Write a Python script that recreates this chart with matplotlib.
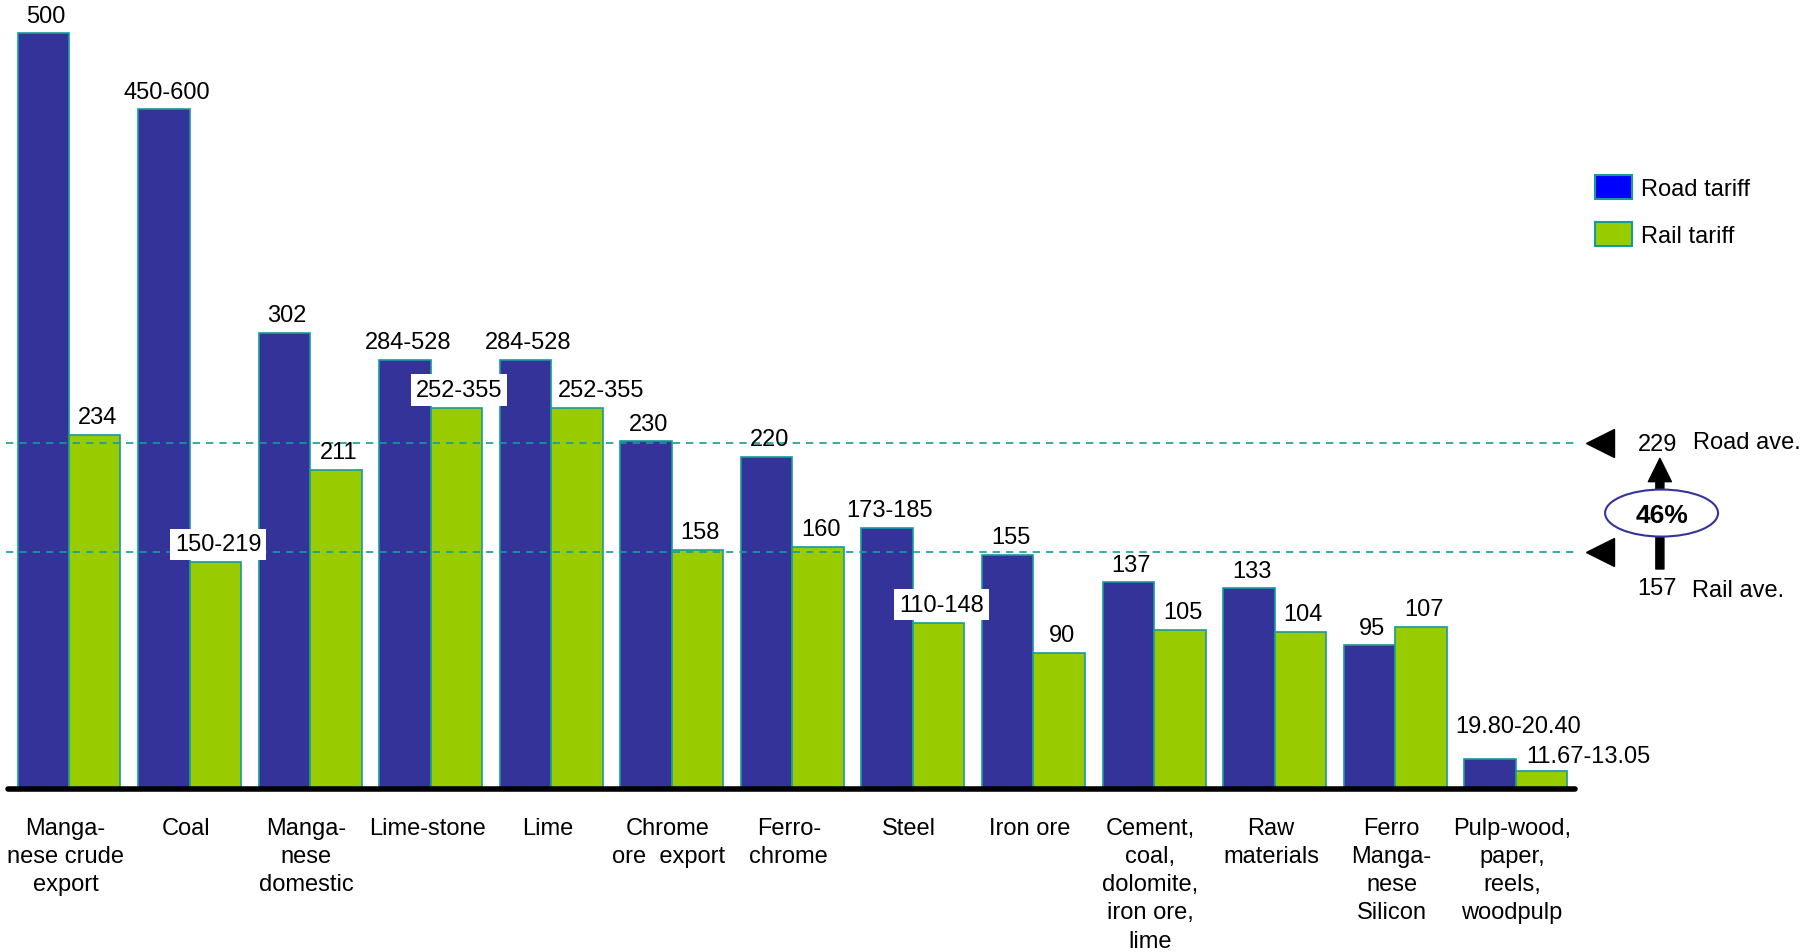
import numpy as np
import matplotlib.pyplot as plt
from matplotlib.patches import Ellipse, Patch

plt.rcParams['font.family'] = ['Liberation Sans', 'DejaVu Sans']

categories = ["Manga-\nnese crude\nexport", "Coal", "Manga-\nnese\ndomestic", "Lime-stone", "Lime",
              "Chrome\nore  export", "Ferro-\nchrome", "Steel", "Iron ore",
              "Cement,\ncoal,\ndolomite,\niron ore,\nlime", "Raw\nmaterials",
              "Ferro\nManga-\nnese\nSilicon", "Pulp-wood,\npaper,\nreels,\nwoodpulp"]
road_tariff = [500, 450, 302, 284, 284, 230, 220, 173, 155, 137, 133, 95, 19.80]
rail_tariff = [234, 150, 211, 252, 252, 158, 160, 110, 90, 105, 104, 107, 11.67]
road_labels = ["500", "450-600", "302", "284-528", "284-528", "230", "220", "173-185",
               "155", "137", "133", "95", "19.80-20.40"]
rail_labels = ["234", "150-219", "211", "252-355", "252-355", "158", "160", "110-148",
               "90", "105", "104", "107", "11.67-13.05"]
road_ave = 229
rail_ave = 157
gap_text = "46%"

ROAD = "#333399"
RAIL = "#99cc00"
EDGE = "#169b9b"
FS = 17

fig = plt.figure(figsize=(18.13, 9.53), dpi=100)
ax = fig.add_axes([0, 0, 1, 1])
ax.set_xlim(-0.5723, 14.466)
ax.set_ylim(-107.8, 522.7)
ax.axis("off")

x = np.arange(len(categories))
w = 0.427
ax.bar(x - w / 2, road_tariff, w, color=ROAD, edgecolor=EDGE, lw=1.2, zorder=2)
ax.bar(x + w / 2, rail_tariff, w, color=RAIL, edgecolor=EDGE, lw=1.2, zorder=2)

# baseline
ax.plot([-0.508, 12.494], [0, 0], color="black", lw=4, solid_capstyle="round", zorder=6)

# average lines + markers
for ave in (road_ave, rail_ave):
    ax.plot([-0.524, 12.506], [ave, ave], color=EDGE, lw=1.2, ls=(0, (4.4, 3.6)), zorder=3)
    ax.plot(12.697, ave, marker="<", ms=20, color="black", zorder=6)

# value labels
road_off = {12: (20, 24)}
rail_off = {4: (17.5, 13), 12: (34, 11)}
rail_boxed = [1, 3, 7]
for i in range(len(categories)):
    dx, dy = road_off.get(i, (2, 12.5))
    ax.annotate(road_labels[i], (x[i] - w / 2, road_tariff[i]), xytext=(dx, dy),
                textcoords="offset points", ha="center", va="center", fontsize=FS, zorder=4)
    dx, dy = rail_off.get(i, (2, 13))
    box = dict(boxstyle="square,pad=0.2", fc="white", ec="none") if i in rail_boxed else None
    ax.annotate(rail_labels[i], (x[i] + w / 2, rail_tariff[i]), xytext=(dx, dy),
                textcoords="offset points", ha="center", va="center", fontsize=FS,
                bbox=box, zorder=4)

# category labels
for i, c in enumerate(categories):
    ax.text(x[i] - 0.03, -18.5, c, ha="center", va="top", fontsize=FS, linespacing=1.36)

# average annotation on the right
ax.annotate("", xy=(13.196, 218.8), xytext=(13.196, 145.6),
            arrowprops=dict(facecolor="black", edgecolor="black", width=5.8,
                            headwidth=16.6, headlength=16.8, shrink=0), zorder=5)
ax.add_patch(Ellipse((13.21, 182.6), 0.937, 31.1, facecolor="white", edgecolor=ROAD,
                     lw=1.5, zorder=6))
ax.text(13.21, 181.5, gap_text, ha="center", va="center", fontsize=19,
        fontweight="bold", zorder=7)
ax.text(13.175, 228.5, str(road_ave), ha="center", va="center", fontsize=FS)
ax.text(13.468, 229.4, "Road ave.", ha="left", va="center", fontsize=FS)
ax.text(13.17, 133, str(rail_ave), ha="center", va="center", fontsize=FS)
ax.text(13.46, 132, "Rail ave.", ha="left", va="center", fontsize=FS)

handles = [Patch(facecolor="#0000ff", edgecolor=EDGE, lw=1.5, label="Road tariff"),
           Patch(facecolor=RAIL, edgecolor=EDGE, lw=1.5, label="Rail tariff")]
ax.legend(handles=handles, loc="upper left", bbox_to_anchor=(1595 / 1813, 1 - 175.5 / 953),
          bbox_transform=fig.transFigure, frameon=False, fontsize=FS, borderpad=0,
          borderaxespad=0, handlelength=1.57, handleheight=1.21, handletextpad=0.36,
          labelspacing=0.95)

fig.savefig("out.png", dpi=100)
